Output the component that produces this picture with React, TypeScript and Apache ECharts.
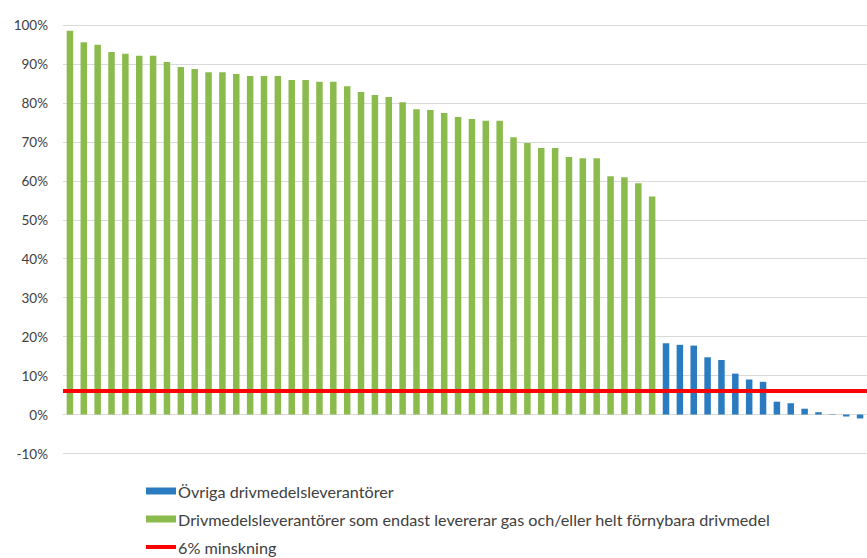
import React, { useEffect, useRef } from "react";
import * as echarts from "echarts";

// Share (%) per fuel supplier — suppliers delivering only gas and/or fully renewable fuels
const greenValues: number[] = [
  98.5, 95.6, 94.9, 93.1, 92.6, 92.1, 92.1, 90.5, 89.2, 88.7,
  87.9, 87.9, 87.4, 86.9, 86.9, 86.9, 85.9, 85.9, 85.4, 85.4,
  84.3, 82.8, 82.0, 81.5, 80.2, 78.4, 78.2, 77.4, 76.4, 75.9,
  75.4, 75.4, 71.2, 69.7, 68.4, 68.4, 66.1, 65.8, 65.8, 61.2,
  60.9, 59.4, 56.0,
];

// Other fuel suppliers
const blueValues: number[] = [
  18.3, 17.9, 17.7, 14.7, 14.0, 10.5, 9.0, 8.4, 3.3, 2.9,
  1.5, 0.6, -0.1, -0.5, -1.0,
];

const THRESHOLD = 6; // 6% minskning

const seriesNames = {
  blue: "Övriga drivmedelsleverantörer",
  green: "Drivmedelsleverantörer som endast levererar gas och/eller helt förnybara drivmedel",
  red: "6% minskning",
};

const yTicks = { min: -10, max: 100, interval: 10 };

const categories: string[] = [...greenValues, ...blueValues].map((_, i) => `Leverantör ${i + 1}`);

export default function App() {
  const ref = useRef<HTMLDivElement>(null);

  useEffect(() => {
    if (!ref.current) return;
    const chart = echarts.init(ref.current, undefined, { renderer: "svg" });
    const greenData = [...greenValues, ...blueValues.map(() => null)];
    const blueData = [...greenValues.map(() => null), ...blueValues];
    const font = "Lato, 'Open Sans', sans-serif";

    chart.setOption({
      animation: false,
      backgroundColor: "#ffffff",
      textStyle: { fontFamily: font },
      grid: { left: 63, right: -8, top: 25, bottom: 104.5, containLabel: false },
      legend: {
        orient: "vertical",
        left: 146,
        top: 483,
        height: 100,
        padding: 0,
        itemWidth: 30,
        itemHeight: 7,
        itemGap: 12,
        textStyle: { fontFamily: font, fontSize: 16.2, color: "#404040", padding: [0, 0, 0, -3] },
        data: [
          { name: seriesNames.blue, icon: "rect" },
          { name: seriesNames.green, icon: "rect" },
          { name: seriesNames.red, icon: "path://M0,0 H30 V4 H0 Z" },
        ],
        selectedMode: false,
      },
      xAxis: {
        type: "category",
        data: categories,
        axisLine: { show: true, onZero: true, lineStyle: { color: "#d9d9d9", width: 1 } },
        axisTick: { show: false },
        axisLabel: { show: false },
        splitLine: { show: false },
      },
      yAxis: {
        type: "value",
        min: yTicks.min,
        max: yTicks.max,
        interval: yTicks.interval,
        axisLine: { show: false },
        axisTick: { show: false },
        axisLabel: {
          formatter: "{value}%",
          fontFamily: font,
          fontSize: 13.5,
          color: "#404040",
          margin: 15,
        },
        splitLine: { show: true, lineStyle: { color: "#d9d9d9", width: 1 } },
      },
      series: [
        {
          name: seriesNames.blue,
          type: "bar",
          data: blueData,
          barWidth: 6.5,
          barGap: "-100%",
          itemStyle: { color: "#2B7BC0" },
        },
        {
          name: seriesNames.green,
          type: "bar",
          data: greenData,
          barWidth: 6.5,
          barGap: "-100%",
          itemStyle: { color: "#8BBB4C" },
        },
        {
          name: seriesNames.red,
          type: "line",
          data: [],
          itemStyle: { color: "#FF0000" },
          lineStyle: { color: "#FF0000", width: 4 },
          z: 5,
          markLine: {
            silent: true,
            symbol: "none",
            label: { show: false },
            lineStyle: { color: "#FF0000", width: 4, type: "solid" },
            data: [{ yAxis: THRESHOLD }],
          },
        },
      ],
    });

    return () => chart.dispose();
  }, []);

  return (
    <div
      ref={ref}
      style={{ position: "fixed", left: 0, top: 0, width: 867, height: 558 }}
    />
  );
}
